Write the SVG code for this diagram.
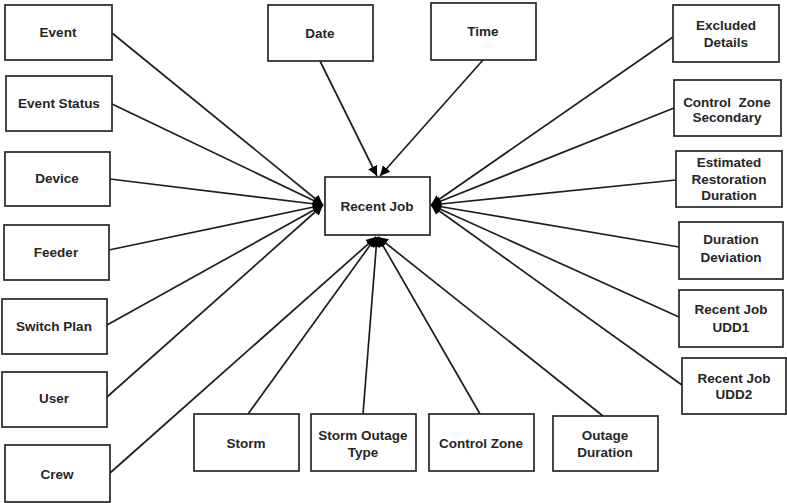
<svg xmlns="http://www.w3.org/2000/svg" width="787" height="503" viewBox="0 0 787 503">
<style>
.box{fill:#fff;stroke:#262626;stroke-width:1.7}
.lbl{font-family:"Liberation Sans",Arial,sans-serif;font-size:13.5px;font-weight:bold;fill:#262626;text-anchor:middle}
.con{stroke:#1e1e1e;stroke-width:1.7;fill:none;marker-end:url(#ah)}
</style>
<defs>
<marker id="ah" markerUnits="userSpaceOnUse" markerWidth="14" markerHeight="14" refX="10" refY="6" orient="auto">
<path d="M0,1 L10,6 L0,11 Z" fill="#000"/>
</marker>
</defs>
<rect width="787" height="503" fill="#fff"/>
<g id="connectors">
<line class="con" x1="112" y1="33" x2="323" y2="205"/>
<line class="con" x1="112" y1="104" x2="323" y2="205"/>
<line class="con" x1="110" y1="179" x2="323" y2="205"/>
<line class="con" x1="109" y1="250" x2="323" y2="205"/>
<line class="con" x1="107" y1="325" x2="323" y2="205"/>
<line class="con" x1="107" y1="397" x2="323" y2="205"/>
<line class="con" x1="110" y1="473" x2="376" y2="237"/>
<line class="con" x1="248" y1="414" x2="376" y2="237"/>
<line class="con" x1="363" y1="414" x2="377" y2="237"/>
<line class="con" x1="480" y1="414" x2="378" y2="237"/>
<line class="con" x1="603" y1="416" x2="378" y2="237"/>
<line class="con" x1="320" y1="61" x2="377" y2="176"/>
<line class="con" x1="483" y1="60" x2="380" y2="176"/>
<line class="con" x1="673" y1="37" x2="431" y2="205"/>
<line class="con" x1="674" y1="108" x2="431" y2="205"/>
<line class="con" x1="676" y1="180" x2="431" y2="205"/>
<line class="con" x1="679" y1="247" x2="431" y2="205"/>
<line class="con" x1="679" y1="317" x2="431" y2="205"/>
<line class="con" x1="682" y1="385" x2="431" y2="205"/>
</g>
<g id="recent-job"><rect class="box" x="325" y="177" width="105" height="58"/><text class="lbl" x="377" y="211">Recent Job</text></g>
<g id="event"><rect class="box" x="5" y="5" width="107" height="55"/><text class="lbl" x="58" y="37">Event</text></g>
<g id="event-status"><rect class="box" x="6" y="76" width="106" height="55"/><text class="lbl" x="59" y="108">Event Status</text></g>
<g id="device"><rect class="box" x="5" y="152" width="105" height="54"/><text class="lbl" x="57" y="183">Device</text></g>
<g id="feeder"><rect class="box" x="4" y="225" width="105" height="55"/><text class="lbl" x="56" y="257">Feeder</text></g>
<g id="switch-plan"><rect class="box" x="2" y="299" width="105" height="55"/><text class="lbl" x="54" y="331">Switch Plan</text></g>
<g id="user"><rect class="box" x="2" y="372" width="105" height="55"/><text class="lbl" x="54" y="403">User</text></g>
<g id="crew"><rect class="box" x="5" y="445" width="105" height="57"/><text class="lbl" x="57" y="479">Crew</text></g>
<g id="date"><rect class="box" x="268" y="5" width="105" height="56"/><text class="lbl" x="320" y="38">Date</text></g>
<g id="time"><rect class="box" x="431" y="3" width="105" height="57"/><text class="lbl" x="483" y="36">Time</text></g>
<g id="storm"><rect class="box" x="194" y="414" width="105" height="57"/><text class="lbl" x="246" y="448">Storm</text></g>
<g id="storm-outage-type"><rect class="box" x="311" y="414" width="105" height="57"/><text class="lbl" x="363" y="440">Storm Outage</text><text class="lbl" x="363" y="457">Type</text></g>
<g id="control-zone"><rect class="box" x="429" y="414" width="105" height="57"/><text class="lbl" x="481" y="448">Control Zone</text></g>
<g id="outage-duration"><rect class="box" x="553" y="416" width="105" height="55"/><text class="lbl" x="605" y="440">Outage</text><text class="lbl" x="605" y="457">Duration</text></g>
<g id="excluded-details"><rect class="box" x="673" y="5" width="106" height="57"/><text class="lbl" x="726" y="30">Excluded</text><text class="lbl" x="726" y="47">Details</text></g>
<g id="control-zone-secondary"><rect class="box" x="674" y="80" width="107" height="56"/><text class="lbl" x="727" y="107" xml:space="preserve">Control  Zone</text><text class="lbl" x="727" y="122">Secondary</text></g>
<g id="estimated-restoration-duration"><rect class="box" x="676" y="151" width="106" height="56"/><text class="lbl" x="729" y="167">Estimated</text><text class="lbl" x="729" y="184">Restoration</text><text class="lbl" x="729" y="200">Duration</text></g>
<g id="duration-deviation"><rect class="box" x="679" y="222" width="104" height="57"/><text class="lbl" x="731" y="244">Duration</text><text class="lbl" x="731" y="262">Deviation</text></g>
<g id="recent-job-udd1"><rect class="box" x="679" y="290" width="104" height="57"/><text class="lbl" x="731" y="314">Recent Job</text><text class="lbl" x="731" y="332">UDD1</text></g>
<g id="recent-job-udd2"><rect class="box" x="682" y="358" width="104" height="56"/><text class="lbl" x="734" y="383">Recent Job</text><text class="lbl" x="734" y="399">UDD2</text></g>
</svg>
